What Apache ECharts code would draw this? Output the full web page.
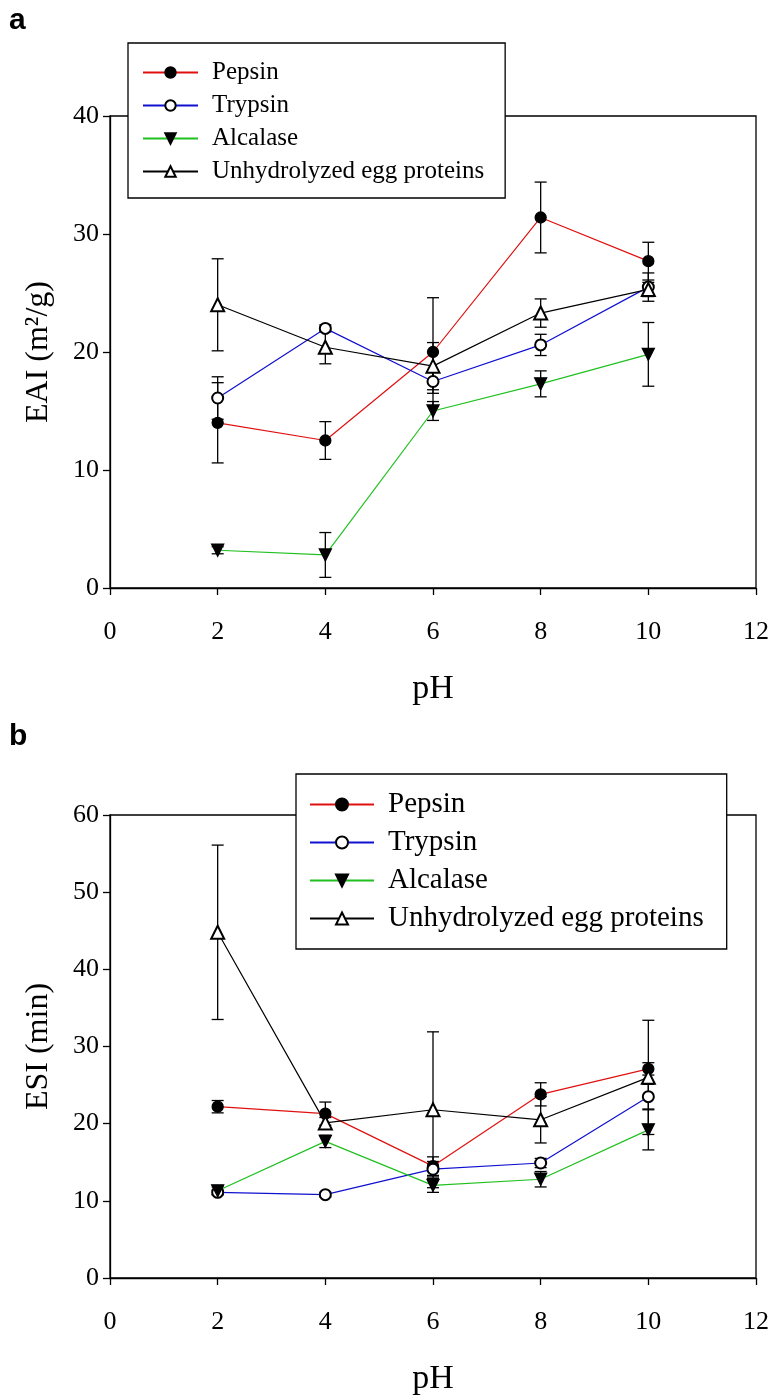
<!DOCTYPE html>
<html>
<head>
<meta charset="utf-8">
<script src="https://cdn.jsdelivr.net/npm/echarts@6/dist/echarts.min.js"></script>
<style>
  html, body { margin: 0; padding: 0; background: #fff; }
  #chart { width: 773px; height: 1397px; }
</style>
</head>
<body>
<div id="chart"></div>
<script>
// pH values on the x axis
var phValues = [2, 4, 6, 8, 10];
var seriesNames = ["Pepsin", "Trypsin", "Alcalase", "Unhydrolyzed egg proteins"];

// panel a: EAI (m2/g), mean and error
var eaiPepsin = [14.0, 12.5, 20.0, 31.4, 27.7];
var eaiPepsinErr = [3.4, 1.6, 4.6, 3.0, 1.6];
var eaiTrypsin = [16.1, 22.0, 17.5, 20.6, 25.5];
var eaiTrypsinErr = [1.8, 0.3, 1.0, 0.9, 1.2];
var eaiAlcalase = [3.2, 2.8, 15.0, 17.3, 19.8];
var eaiAlcalaseErr = [0.3, 1.9, 0.8, 1.1, 2.7];
var eaiUnhydro = [24.0, 20.4, 18.8, 23.3, 25.3];
var eaiUnhydroErr = [3.9, 1.4, 2.0, 1.2, 0.6];

// panel b: ESI (min), mean and error
var esiPepsin = [22.2, 21.3, 14.5, 23.8, 27.1];
var esiPepsinErr = [0.8, 1.5, 1.2, 1.5, 0.8];
var esiTrypsin = [11.1, 10.8, 14.1, 14.9, 23.5];
var esiTrypsinErr = [0.3, 0.3, 1.0, 0.6, 1.6];
var esiAlcalase = [11.3, 17.7, 12.0, 12.8, 19.2];
var esiAlcalaseErr = [0.5, 0.8, 0.9, 1.0, 2.6];
var esiUnhydro = [44.8, 20.1, 21.8, 20.5, 26.0];
var esiUnhydroErr = [11.3, 0.7, 10.1, 3.0, 7.4];

var serif = "Liberation Serif";
var lineColors = ["#e01010", "#1010d0", "#20c020", "#000000"];
var symbols = ["circle", "emptyCircle", "triangle", "emptyTriangle"];
var symbolRot = [0, 0, 180, 0];
var symbolSizes = [11, 11, 12, 13];

function pairs(ys) {
  return phValues.map(function (x, i) { return [x, ys[i]]; });
}
function errRows(ys, es) {
  return phValues.map(function (x, i) { return [x, ys[i] - es[i], ys[i] + es[i]]; });
}

// error bar: vertical line with caps
function renderErr(params, api) {
  var lo = api.coord([api.value(0), api.value(1)]);
  var hi = api.coord([api.value(0), api.value(2)]);
  var w = 6;
  var st = { stroke: "#000", lineWidth: 1.3 };
  return {
    type: "group",
    children: [
      { type: "line", shape: { x1: lo[0], y1: lo[1], x2: hi[0], y2: hi[1] }, style: st },
      { type: "line", shape: { x1: lo[0] - w, y1: lo[1], x2: lo[0] + w, y2: lo[1] }, style: st },
      { type: "line", shape: { x1: hi[0] - w, y1: hi[1], x2: hi[0] + w, y2: hi[1] }, style: st }
    ]
  };
}

var panels = [
  { means: [eaiPepsin, eaiTrypsin, eaiAlcalase, eaiUnhydro],
    errs: [eaiPepsinErr, eaiTrypsinErr, eaiAlcalaseErr, eaiUnhydroErr] },
  { means: [esiPepsin, esiTrypsin, esiAlcalase, esiUnhydro],
    errs: [esiPepsinErr, esiTrypsinErr, esiAlcalaseErr, esiUnhydroErr] }
];

var series = [];
panels.forEach(function (p, gi) {
  for (var k = 0; k < 4; k++) {
    series.push({
      type: "custom",
      xAxisIndex: gi, yAxisIndex: gi,
      renderItem: renderErr,
      data: errRows(p.means[k], p.errs[k]),
      z: 2,
      silent: true
    });
  }
  for (var k = 0; k < 4; k++) {
    series.push({
      name: seriesNames[k],
      type: "line",
      xAxisIndex: gi, yAxisIndex: gi,
      data: pairs(p.means[k]),
      symbol: symbols[k],
      symbolSize: symbolSizes[k],
      symbolRotate: symbolRot[k],
      showAllSymbol: true,
      lineStyle: { color: lineColors[k], width: 1.2 },
      itemStyle: { color: "#000", borderColor: "#000", borderWidth: 1.3 },
      z: 3,
      animation: false
    });
  }
});

function xAxisCfg(gi) {
  return {
    gridIndex: gi, type: "value", min: 0, max: 12, interval: 2,
    name: "pH", nameLocation: "middle", nameGap: 84,
    nameTextStyle: { fontFamily: serif, fontSize: 34, color: "#000" },
    axisLine: { lineStyle: { color: "#000", width: 1.3 } },
    axisTick: { length: 7, lineStyle: { color: "#000", width: 1.3 } },
    axisLabel: { fontFamily: serif, fontSize: 26, color: "#000", margin: 31 },
    splitLine: { show: false }
  };
}
function yAxisCfg(gi, max, name) {
  return {
    gridIndex: gi, type: "value", min: 0, max: max, interval: 10,
    name: name, nameLocation: "middle", nameGap: 55, nameRotate: 90,
    nameTextStyle: { fontFamily: serif, fontSize: 32, color: "#000" },
    axisLine: { show: true, lineStyle: { color: "#000", width: 1.3 } },
    axisTick: { show: true, length: 7, lineStyle: { color: "#000", width: 1.3 } },
    axisLabel: { fontFamily: serif, fontSize: 26, color: "#000", margin: 11 },
    splitLine: { show: false }
  };
}

function legendCfg(left, top, fs, lh, gap, iw, ih, pad) {
  return {
    orient: "vertical", left: left, top: top,
    data: seriesNames,
    backgroundColor: "#fff", borderColor: "#000", borderWidth: 1.3,
    padding: pad,
    itemWidth: iw, itemHeight: ih, itemGap: gap,
    selectedMode: false, z: 10,
    textStyle: { fontFamily: serif, fontSize: fs, lineHeight: lh, color: "#000", padding: [0, 0, 0, 9] }
  };
}

var chart = echarts.init(document.getElementById("chart"));
chart.setOption({
  backgroundColor: "#fff",
  animation: false,
  grid: [
    { left: 110, right: 17, top: 116, height: 472, show: true, borderColor: "#000", borderWidth: 1.3, backgroundColor: "transparent" },
    { left: 110, right: 17, top: 815, height: 467, show: true, borderColor: "#000", borderWidth: 1.3, backgroundColor: "transparent" }
  ],
  xAxis: [xAxisCfg(0), xAxisCfg(1)],
  yAxis: [yAxisCfg(0, 40, "EAI (m\u00B2/g)"), yAxisCfg(1, 60, "ESI (min)")],
  legend: [
    legendCfg(128, 43, 25, 25, 8, 55, 13, [17, 21, 14, 14]),
    legendCfg(296, 774, 29, 28, 9, 64, 15, [16, 23, 16, 13])
  ],
  graphic: [
    { type: "text", left: 9, top: 6, style: { text: "a", font: "bold 30px 'Liberation Sans'", fill: "#000" } },
    { type: "text", left: 9, top: 722, style: { text: "b", font: "bold 30px 'Liberation Sans'", fill: "#000" } }
  ],
  series: series
});
</script>
</body>
</html>
